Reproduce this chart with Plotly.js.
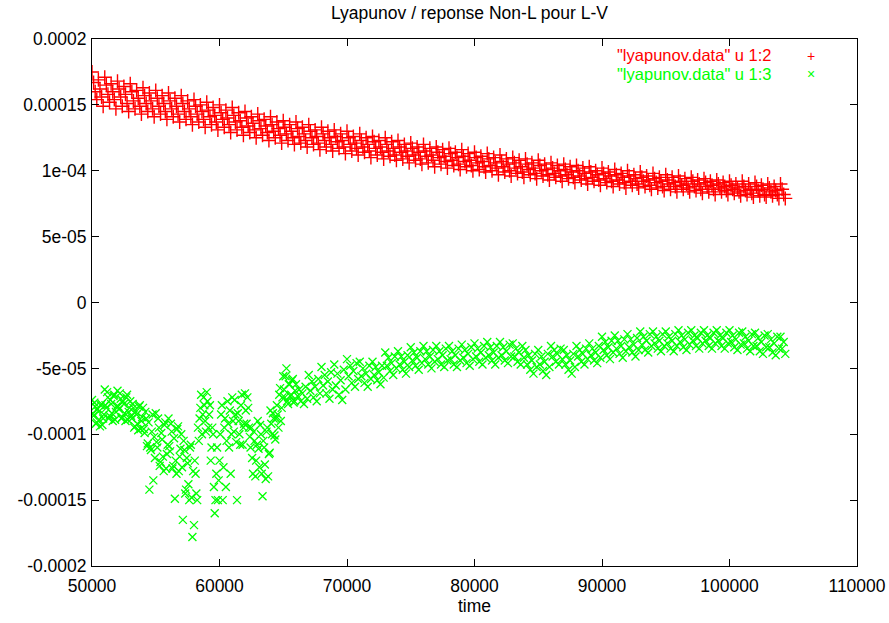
<!DOCTYPE html>
<html>
<head>
<meta charset="utf-8">
<script src="https://cdn.plot.ly/plotly-3.0.1.min.js"></script>
<style>html,body{margin:0;padding:0;background:#fff;}#chart{width:889px;height:623px;}</style>
</head>
<body>
<div id="chart"></div>
<script>
// time samples (column 1 of lyapunov.data), one row per 1000 time units
const time = [
50000,50125,50250,50375,50500,50625,50750,50875,
51000,51125,51250,51375,51500,51625,51750,51875,
52000,52125,52250,52375,52500,52625,52750,52875,
53000,53125,53250,53375,53500,53625,53750,53875,
54000,54125,54250,54375,54500,54625,54750,54875,
55000,55125,55250,55375,55500,55625,55750,55875,
56000,56125,56250,56375,56500,56625,56750,56875,
57000,57125,57250,57375,57500,57625,57750,57875,
58000,58125,58250,58375,58500,58625,58750,58875,
59000,59125,59250,59375,59500,59625,59750,59875,
60000,60125,60250,60375,60500,60625,60750,60875,
61000,61125,61250,61375,61500,61625,61750,61875,
62000,62125,62250,62375,62500,62625,62750,62875,
63000,63125,63250,63375,63500,63625,63750,63875,
64000,64125,64250,64375,64500,64625,64750,64875,
65000,65125,65250,65375,65500,65625,65750,65875,
66000,66125,66250,66375,66500,66625,66750,66875,
67000,67125,67250,67375,67500,67625,67750,67875,
68000,68125,68250,68375,68500,68625,68750,68875,
69000,69125,69250,69375,69500,69625,69750,69875,
70000,70125,70250,70375,70500,70625,70750,70875,
71000,71125,71250,71375,71500,71625,71750,71875,
72000,72125,72250,72375,72500,72625,72750,72875,
73000,73125,73250,73375,73500,73625,73750,73875,
74000,74125,74250,74375,74500,74625,74750,74875,
75000,75125,75250,75375,75500,75625,75750,75875,
76000,76125,76250,76375,76500,76625,76750,76875,
77000,77125,77250,77375,77500,77625,77750,77875,
78000,78125,78250,78375,78500,78625,78750,78875,
79000,79125,79250,79375,79500,79625,79750,79875,
80000,80125,80250,80375,80500,80625,80750,80875,
81000,81125,81250,81375,81500,81625,81750,81875,
82000,82125,82250,82375,82500,82625,82750,82875,
83000,83125,83250,83375,83500,83625,83750,83875,
84000,84125,84250,84375,84500,84625,84750,84875,
85000,85125,85250,85375,85500,85625,85750,85875,
86000,86125,86250,86375,86500,86625,86750,86875,
87000,87125,87250,87375,87500,87625,87750,87875,
88000,88125,88250,88375,88500,88625,88750,88875,
89000,89125,89250,89375,89500,89625,89750,89875,
90000,90125,90250,90375,90500,90625,90750,90875,
91000,91125,91250,91375,91500,91625,91750,91875,
92000,92125,92250,92375,92500,92625,92750,92875,
93000,93125,93250,93375,93500,93625,93750,93875,
94000,94125,94250,94375,94500,94625,94750,94875,
95000,95125,95250,95375,95500,95625,95750,95875,
96000,96125,96250,96375,96500,96625,96750,96875,
97000,97125,97250,97375,97500,97625,97750,97875,
98000,98125,98250,98375,98500,98625,98750,98875,
99000,99125,99250,99375,99500,99625,99750,99875,
100000,100125,100250,100375,100500,100625,100750,100875,
101000,101125,101250,101375,101500,101625,101750,101875,
102000,102125,102250,102375,102500,102625,102750,102875,
103000,103125,103250,103375,103500,103625,103750,103875,
104000,104125,104250,104375
];

// column 2 (units of 1e-6)
const col2 = [
175,167,160,154,169,162,156,149,
171,165,158,152,166,160,154,147,
168,162,156,149,164,158,151,145,
166,160,153,147,161,155,149,143,
163,157,151,145,159,153,147,141,
161,155,149,143,157,151,145,139,
159,153,147,141,155,149,143,137,
157,151,145,139,153,147,141,135,
154,149,143,137,150,145,139,133,
152,146,141,135,148,142,137,131,
150,144,139,133,146,140,135,129,
148,142,137,131,144,138,133,127,
145,140,134,129,141,136,131,125,
143,138,132,127,139,134,129,123,
141,135,130,125,137,132,127,121,
138,133,128,123,135,130,125,120,
137,132,126,121,133,128,123,118,
135,130,125,120,131,126,121,116,
133,128,123,118,130,125,120,115,
131,126,122,117,128,123,118,113,
130,125,120,115,126,121,117,112,
128,123,118,114,125,120,115,110,
126,122,117,112,123,118,114,109,
125,120,115,111,122,117,112,108,
123,118,114,109,120,115,111,106,
121,117,112,108,118,114,109,105,
120,115,111,106,117,112,108,103,
118,114,110,105,116,111,107,102,
117,113,108,104,114,110,105,101,
116,111,107,103,113,108,104,100,
114,110,106,101,111,107,103,99,
113,109,104,100,110,106,102,97,
112,107,103,99,109,105,100,96,
110,106,102,98,108,103,99,95,
109,105,101,97,106,102,98,94,
108,104,100,96,105,101,97,93,
106,102,98,95,104,100,96,92,
105,101,97,94,103,99,95,91,
104,100,96,93,102,98,94,90,
103,99,95,92,100,97,93,89,
102,98,94,91,99,96,92,88,
101,97,93,90,98,95,91,87,
100,96,92,89,97,94,90,87,
99,95,92,88,96,93,89,86,
98,94,91,87,95,92,88,85,
97,93,90,86,95,91,88,84,
96,92,89,86,94,90,87,84,
95,92,88,85,93,90,86,83,
94,91,88,84,92,89,86,82,
93,90,87,84,91,88,85,82,
92,89,86,83,90,87,84,81,
92,88,85,82,90,86,83,80,
91,88,85,81,89,86,82,80,
90,87,84,81,88,85,82,79,
90,86,82,79
];

// column 3 (units of 1e-6)
const col3 = [
-74,-86,-79,-91,-83,-94,-77,-88,
-66,-80,-72,-86,-77,-90,-70,-83,
-67,-81,-73,-87,-77,-90,-70,-83,
-75,-88,-80,-94,-85,-97,-78,-90,
-80,-99,-88,-107,-142,-112,-85,-102,
-84,-110,-95,-121,-104,-128,-91,-115,
-88,-113,-98,-124,-149,-130,-94,-117,
-100,-165,-112,-142,-122,-150,-108,-178,
-169,-130,-150,-105,-80,-100,-72,-90,
-68,-95,-78,-110,-100,-160,-130,-150,
-120,-85,-150,-95,-140,-75,-110,-130,
-72,-98,-85,-150,-90,-108,-70,-95,
-69,-92,-80,-102,-95,-130,-105,-120,
-90,-125,-100,-147,-110,-134,-95,-115,
-82,-100,-88,-104,-78,-95,-65,-80,
-56,-72,-50,-77,-62,-70,-58,-75,
-62,-71,-66,-75,-69,-77,-64,-73,
-55,-67,-60,-72,-64,-75,-58,-69,
-49,-63,-55,-69,-60,-73,-53,-66,
-47,-63,-54,-70,-59,-74,-51,-66,
-43,-56,-48,-61,-52,-64,-46,-58,
-45,-56,-50,-61,-54,-64,-48,-58,
-45,-55,-49,-59,-53,-62,-48,-57,
-38,-48,-42,-52,-46,-55,-41,-50,
-37,-47,-41,-51,-45,-54,-40,-49,
-34,-44,-38,-48,-42,-51,-37,-46,
-33,-43,-37,-47,-41,-50,-36,-45,
-33,-43,-37,-47,-40,-49,-35,-44,
-33,-43,-37,-47,-40,-49,-35,-44,
-32,-42,-36,-46,-39,-48,-34,-43,
-31,-41,-35,-45,-38,-47,-33,-42,
-30,-40,-34,-44,-38,-47,-33,-42,
-30,-40,-34,-44,-37,-46,-32,-41,
-31,-41,-35,-45,-38,-47,-33,-42,
-36,-47,-40,-51,-44,-54,-39,-49,
-36,-47,-41,-52,-45,-55,-39,-49,
-33,-41,-36,-45,-39,-47,-35,-43,
-36,-47,-40,-51,-44,-54,-39,-49,
-33,-41,-36,-45,-39,-47,-35,-43,
-31,-40,-35,-44,-38,-46,-33,-42,
-26,-36,-30,-40,-34,-43,-29,-38,
-25,-35,-29,-39,-33,-42,-28,-37,
-24,-34,-28,-38,-32,-41,-27,-36,
-22,-32,-26,-36,-29,-38,-24,-33,
-22,-31,-26,-35,-29,-37,-24,-33,
-22,-31,-26,-35,-29,-37,-24,-33,
-21,-30,-25,-34,-28,-36,-23,-32,
-21,-29,-25,-33,-27,-35,-23,-31,
-21,-29,-25,-33,-27,-35,-23,-31,
-21,-29,-25,-33,-27,-35,-23,-31,
-21,-30,-25,-34,-28,-36,-23,-32,
-22,-31,-26,-35,-29,-37,-24,-33,
-23,-33,-27,-37,-30,-39,-25,-34,
-24,-34,-28,-38,-31,-40,-26,-35,
-26,-35,-30,-39
];

// extra column-3 samples in the noisy early part (50000-66000)
const timeEarly = [
50060,50185,50310,50435,50560,50685,50810,50935,
51060,51185,51310,51435,51560,51685,51810,51935,
52060,52185,52310,52435,52560,52685,52810,52935,
53060,53185,53310,53435,53560,53685,53810,53935,
54060,54185,54310,54435,54560,54685,54810,54935,
55060,55185,55310,55435,55560,55685,55810,55935,
56060,56185,56310,56435,56560,56685,56810,56935,
57060,57185,57310,57435,57560,57685,57810,57935,
58060,58185,58310,58435,58560,58685,58810,58935,
59060,59185,59310,59435,59560,59685,59810,59935,
60060,60185,60310,60435,60560,60685,60810,60935,
61060,61185,61310,61435,61560,61685,61810,61935,
62060,62185,62310,62435,62560,62685,62810,62935,
63060,63185,63310,63435,63560,63685,63810,63935,
64060,64185,64310,64435,64560,64685,64810,64935,
65060,65185,65310,65435,65560,65685,65810,65935
];
const col3Early = [
-84,-76,-92,-81,-89,-78,-93,-85,
-78,-68,-88,-74,-84,-71,-89,-79,
-79,-69,-88,-75,-84,-72,-89,-80,
-86,-77,-95,-83,-92,-79,-96,-87,
-96,-83,-109,-91,-110,-98,-135,-118,
-106,-88,-124,-99,-117,-93,-126,-108,
-109,-92,-126,-103,-120,-96,-128,-111,
-125,-105,-145,-118,-138,-110,-148,-128,
-120,-145,-95,-88,-70,-85,-78,-98,
-75,-85,-120,-95,-140,-150,-110,-135,
-100,-78,-125,-88,-105,-92,-82,-100,
-90,-74,-106,-84,-100,-78,-108,-92,
-82,-72,-95,-110,-118,-98,-132,-108,
-111,-93,-130,-105,-123,-98,-132,-114,
-92,-84,-101,-88,-85,-70,-90,-72,
-66,-56,-75,-62,-71,-59,-76,-67
];

const yTickVals = [0.0002, 0.00015, 0.0001, 0.00005, 0, -0.00005, -0.0001, -0.00015, -0.0002];
const yTickText = ["0.0002", "0.00015", "1e-04", "5e-05", "0", "-5e-05", "-0.0001", "-0.00015", "-0.0002"];
const xTickVals = [50000, 60000, 70000, 80000, 90000, 100000, 110000];
const xTickText = ["50000", "60000", "70000", "80000", "90000", "100000", "110000"];
const seriesNames = ['"lyapunov.data" u 1:2', '"lyapunov.data" u 1:3'];
const titleText = "Lyapunov / reponse Non-L pour L-V";
const xLabel = "time";

const MICRO = 1e-6;
const FONT = '"Liberation Sans", Arial, Helvetica, sans-serif';
const FS = 17.5;
const LFS = 16.5;

const traces = [
  {
    x: time, y: col2.map(v => v * MICRO), name: seriesNames[0],
    type: 'scatter', mode: 'markers', showlegend: false,
    marker: {symbol: 'cross-thin-open', size: 10, color: '#ff0000', line: {color: '#ff0000', width: 1.4}}
  },
  {
    x: time.concat(timeEarly), y: col3.concat(col3Early).map(v => v * MICRO), name: seriesNames[1],
    type: 'scatter', mode: 'markers', showlegend: false,
    marker: {symbol: 'x-thin-open', size: 8, color: '#00ff00', line: {color: '#00ff00', width: 1.3}}
  }
];

const axisCommon = {
  showline: true, linecolor: '#000', linewidth: 1, mirror: 'ticks',
  ticks: 'inside', ticklen: 7, tickwidth: 1, tickcolor: '#000',
  showgrid: false, zeroline: false, ticklabeloverflow: 'allow',
  tickfont: {family: FONT, size: FS, color: '#000'}
};

const layout = {
  width: 889, height: 623,
  paper_bgcolor: '#fff', plot_bgcolor: '#fff',
  margin: {l: 92, r: 32, t: 39, b: 57, pad: 0},
  showlegend: false,
  title: {text: titleText, font: {family: FONT, size: FS, color: '#000'},
          xref: 'container', yref: 'container', x: 469.5 / 889, xanchor: 'center', y: 1 - 13 / 623, yanchor: 'middle'},
  xaxis: Object.assign({}, axisCommon, {
    range: [50000, 110000], tickvals: xTickVals, ticktext: xTickText,
    ticklabelstandoff: 4,
    title: {text: xLabel, font: {family: FONT, size: FS, color: '#000'}, standoff: 3}
  }),
  yaxis: Object.assign({}, axisCommon, {
    range: [-0.0002, 0.0002], tickvals: yTickVals, ticktext: yTickText,
    ticklabelstandoff: 1
  }),
  annotations: [
    {xref: 'paper', yref: 'paper', x: (774 - 92) / 765, y: (566 - 55) / 527, xanchor: 'right', yanchor: 'middle',
     text: seriesNames[0], showarrow: false, font: {family: FONT, size: LFS, color: '#ff0000'}},
    {xref: 'paper', yref: 'paper', x: (774 - 92) / 765, y: (566 - 74) / 527, xanchor: 'right', yanchor: 'middle',
     text: seriesNames[1], showarrow: false, font: {family: FONT, size: LFS, color: '#00ff00'}},
    {xref: 'paper', yref: 'paper', x: (811 - 92) / 765, y: (566 - 56) / 527, xanchor: 'center', yanchor: 'middle',
     text: '+', showarrow: false, font: {family: FONT, size: 14, color: '#ff0000'}},
    {xref: 'paper', yref: 'paper', x: (811 - 92) / 765, y: (566 - 74) / 527, xanchor: 'center', yanchor: 'middle',
     text: '×', showarrow: false, font: {family: FONT, size: 14, color: '#00ff00'}}
  ]
};

Plotly.newPlot('chart', traces, layout, {staticPlot: true, displayModeBar: false});
</script>
</body>
</html>
